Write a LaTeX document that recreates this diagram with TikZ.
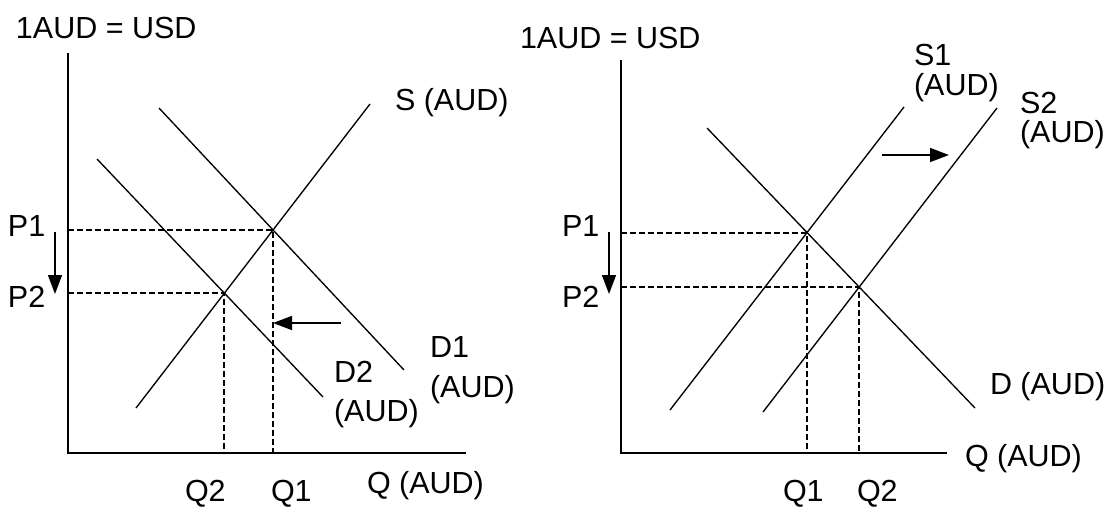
\documentclass[tikz,border=0pt]{standalone}
\usepackage{fontspec}
\setmainfont{Liberation Sans}
\usetikzlibrary{arrows.meta}
\begin{document}
\begin{tikzpicture}[x=1pt,y=-1pt,
  lbl/.style={anchor=base west,inner sep=0pt,outer sep=0pt,font=\fontsize{30.5}{31}\selectfont},
  axis/.style={line width=1.5pt},
  curve/.style={line width=1.35pt},
  guide/.style={line width=1.2pt,dash pattern=on 5.5pt off 3.5pt},
  movearrow/.style={line width=1.5pt,-{Triangle[length=19pt,width=14pt]}}]
\useasboundingbox (0,0) rectangle (1114,509);
% ---------- left graph ----------
\coordinate (LO) at (68,453);
\coordinate (LYt) at (68,53);
\coordinate (LXr) at (466,453);
\draw[axis] (LYt) -- (LO) -- (LXr);
\coordinate (Sa) at (136,408);
\coordinate (Sb) at (370,104);
\coordinate (D1a) at (159,108);
\coordinate (D1b) at (404,370);
\coordinate (D2a) at (97,159);
\coordinate (D2b) at (323,397);
\draw[curve] (Sa) -- (Sb);
\draw[curve] (D1a) -- (D1b);
\draw[curve] (D2a) -- (D2b);
\coordinate (E1) at (273,230);
\coordinate (E2) at (224,293);
\coordinate (LP1) at (68,230);
\coordinate (LP2) at (68,293);
\coordinate (LQ1) at (273,453);
\coordinate (LQ2) at (224,453);
\draw[guide] (LP1) -- (E1) -- (LQ1);
\draw[guide] (LP2) -- (E2) -- (LQ2);
\coordinate (LdA) at (55,232);
\coordinate (LdB) at (55,294);
\draw[movearrow] (LdA) -- (LdB);
\coordinate (LhA) at (341,323);
\coordinate (LhB) at (273,323);
\draw[movearrow] (LhA) -- (LhB);
\node[lbl] (ltitle) at (16,38) {1AUD = USD};
\node[lbl] (slbl) at (395,110) {S (AUD)};
\node[lbl] (d1lbl) at (430,357) {D1};
\node[lbl] (d1lblb) at (430,397) {(AUD)};
\node[lbl] (d2lbl) at (334,382) {D2};
\node[lbl] (d2lblb) at (334,421) {(AUD)};
\node[lbl] (lqlbl) at (367,493) {Q (AUD)};
\node[lbl] (lq2) at (185,501) {Q2};
\node[lbl] (lq1) at (271,501) {Q1};
\node[lbl] (lp1) at (8,236) {P1};
\node[lbl] (lp2) at (8,307) {P2};
% ---------- right graph ----------
\coordinate (RO) at (621,453);
\coordinate (RYt) at (621,60);
\coordinate (RXr) at (947,453);
\draw[axis] (RYt) -- (RO) -- (RXr);
\coordinate (S1a) at (670,410);
\coordinate (S1b) at (904,107);
\coordinate (S2a) at (763,412);
\coordinate (S2b) at (997,108);
\coordinate (Da) at (707,128);
\coordinate (Db) at (975,408);
\draw[curve] (S1a) -- (S1b);
\draw[curve] (S2a) -- (S2b);
\draw[curve] (Da) -- (Db);
\coordinate (F1) at (807,233);
\coordinate (F2) at (859,287);
\coordinate (RP1) at (621,233);
\coordinate (RP2) at (621,287);
\coordinate (RQ1) at (807,453);
\coordinate (RQ2) at (859,453);
\draw[guide] (RP1) -- (F1) -- (RQ1);
\draw[guide] (RP2) -- (F2) -- (RQ2);
\coordinate (RdA) at (609,232);
\coordinate (RdB) at (609,294);
\draw[movearrow] (RdA) -- (RdB);
\coordinate (RhA) at (882,155);
\coordinate (RhB) at (949,155);
\draw[movearrow] (RhA) -- (RhB);
\node[lbl] (rtitle) at (520,48) {1AUD = USD};
\node[lbl] (s1lbl) at (914,65) {S1};
\node[lbl] (s1lblb) at (914,95) {(AUD)};
\node[lbl] (s2lbl) at (1020,113) {S2};
\node[lbl] (s2lblb) at (1020,142) {(AUD)};
\node[lbl] (dlbl) at (990,394) {D (AUD)};
\node[lbl] (rqlbl) at (965,466) {Q (AUD)};
\node[lbl] (rq1) at (783,501) {Q1};
\node[lbl] (rq2) at (857,501) {Q2};
\node[lbl] (rp1) at (562,236) {P1};
\node[lbl] (rp2) at (562,307) {P2};
\end{tikzpicture}
\end{document}
